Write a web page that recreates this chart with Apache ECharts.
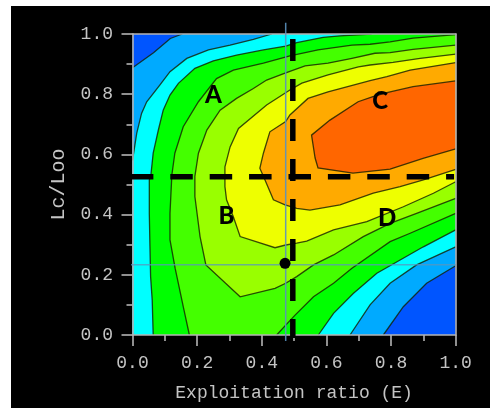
<!DOCTYPE html>
<html><head><meta charset="utf-8">
<style>html,body{margin:0;padding:0;background:#fff}#c{width:490px;height:408px}</style>
<script src="https://cdn.jsdelivr.net/npm/echarts@6/dist/echarts.min.js"></script>
</head><body><div id="c"></div>
<script>
const colors=['#0055ff','#00aaff','#00ffff','#00ff00','#44ff00','#99ff00','#eeff00','#ffaa00','#ff6600'];
const midBlueUpper=[[.154,1],[.117,.985],[.065,.938],[0,.888]];
const midBlueLower=[[.776,0],[.838,.094],[.910,.172],[1,.230]];
const cyanUpper=[[.431,1],[.374,.982],[.302,.963],[.235,.947],[.168,.919],[.116,.875],[.085,.831],[.044,.775],[.028,.736],[.013,.670],[0,.58]];
const cyanLower=[[.673,0],[.735,.100],[.797,.172],[.879,.233],[1,.293]];
const greenUpper=[[.74,1],[.642,.994],[.590,.989],[.508,.971],[.474,.960],[.405,.947],[.322,.930],[.250,.911],[.193,.886],[.142,.836],[.116,.797],[.095,.747],[.080,.681],[.064,.604],[.057,.532],[.052,.515],[.052,.404],[.054,.293],[.056,.194],[.061,.116],[.064,0]];
const greenLower=[[.575,0],[.622,.072],[.683,.138],[.756,.205],[.828,.249],[.900,.293],[1,.349]];
const limeUpper=[[1,.998],[.992,.997],[.868,.986],[.797,.974],[.735,.966],[.679,.963],[.574,.947],[.487,.927],[.405,.903],[.312,.880],[.260,.852],[.204,.775],[.157,.692],[.131,.604],[.121,.526],[.121,.515],[.116,.404],[.116,.316],[.132,.221],[.157,.094],[.176,0]];
const limeLower=[[.446,0],[.474,.033],[.503,.066],[.560,.127],[.622,.172],[.678,.221],[.797,.310],[.859,.338],[1,.404]];
const chartreuse=[[1,.963],[.868,.949],[.797,.938],[.750,.936],[.679,.919],[.605,.903],[.534,.894],[.472,.870],[.415,.847],[.374,.819],[.322,.786],[.271,.747],[.230,.681],[.204,.604],[.193,.527],[.193,.460],[.209,.327],[.227,.233],[.333,.127],[.441,.155],[.474,.172],[.508,.194],[.560,.233],[.622,.266],[.714,.327],[.797,.371],[.879,.404],[1,.454]];
const yellow=[[1,.933],[.890,.919],[.806,.906],[.735,.897],[.699,.891],[.605,.864],[.524,.837],[.487,.814],[.415,.764],[.328,.686],[.302,.625],[.286,.559],[.286,.493],[.291,.449],[.312,.393],[.333,.327],[.441,.290],[.474,.299],[.508,.305],[.539,.312],[.622,.349],[.725,.377],[.838,.426],[.931,.471],[1,.509]];
const orange=[[1,.905],[.859,.880],[.787,.858],[.735,.845],[.605,.808],[.543,.786],[.487,.731],[.474,.709],[.425,.675],[.405,.604],[.394,.554],[.410,.515],[.436,.449],[.472,.432],[.508,.421],[.549,.415],[.642,.432],[.745,.471],[.828,.493],[.900,.515],[1,.550]];
const red=[[1,.844],[.868,.825],[.787,.805],[.744,.792],[.698,.775],[.611,.714],[.554,.664],[.565,.588],[.574,.555],[.682,.538],[.797,.551],[.899,.587],[1,.618]];
const levels=[[midBlueUpper,midBlueLower],[cyanUpper,cyanLower],[greenUpper,greenLower],[limeUpper,limeLower],[chartreuse,[]],[yellow,[]],[orange,[]],[red,[]]];
const thinV=[[.474,1.037],[.474,-.02]];
const thinH=[[-.008,.233],[1,.233]];
const dashV=[[.496,.983],[.496,-.01]];
const dashH=[[-.005,.526],[.995,.526]];
const point=[[.472,.238]];
const letters=[[.25,.797,'A'],[.291,.393,'B'],[.766,.777,'C'],[.788,.388,'D']];

const mono='"Liberation Mono","DejaVu Sans Mono",monospace';
const grey='#c4c4c4';
const axisBits={axisLine:{show:true,onZero:false,lineStyle:{color:'#b4b4b4',width:1.6}},
  axisTick:{show:true,length:11,lineStyle:{color:'#b4b4b4',width:1.6}},
  minorTick:{show:true,splitNumber:2,length:6,lineStyle:{color:'#b4b4b4',width:1.6}},
  splitLine:{show:false},minorSplitLine:{show:false},z:10};
const frame={type:'value',min:0,max:1,axisLine:{show:true,onZero:false,lineStyle:{color:'#b4b4b4',width:1.6}},axisTick:{show:false},axisLabel:{show:false},splitLine:{show:false},z:10};

function fill(params,api){
  const lv=levels[params.dataIndex];
  const c=p=>api.coord(p);
  const pts=lv[0].slice();
  if(pts[pts.length-1][0]===0)pts.push([0,0]);
  pts.push(...lv[1]);
  if(lv[0][0][1]===1)pts.push([1,1]);
  const kids=[{type:'polygon',shape:{points:pts.map(c)},style:{fill:colors[params.dataIndex+1],stroke:null}}];
  lv.forEach(l=>{if(l.length)kids.push({type:'polyline',shape:{points:l.map(c)},style:{fill:null,stroke:'rgba(20,30,0,.8)',lineWidth:1.3}});});
  return {type:'group',children:kids};
}
const lineS=(d,style,z)=>({type:'line',data:d,symbol:'none',silent:true,clip:false,animation:false,lineStyle:style,z});

const chart=echarts.init(document.getElementById('c'),null,{renderer:'canvas'});
chart.setOption({
  animation:false,backgroundColor:'#fff',
  graphic:[{type:'rect',z:-1,shape:{x:11,y:6,width:479,height:402},style:{fill:'#000'}}],
  grid:{left:132.5,right:34.3,top:34,bottom:73,show:true,backgroundColor:colors[0],borderWidth:0,outerBoundsMode:'none',containLabel:false},
  xAxis:[{type:'value',min:0,max:1,interval:.2,position:'bottom',...axisBits,
      axisLabel:{color:grey,fontFamily:mono,fontSize:18,margin:19,formatter:v=>v.toFixed(1),showMinLabel:true,showMaxLabel:true},
      name:'Exploitation ratio (E)',nameLocation:'middle',nameGap:49,nameTextStyle:{color:grey,fontFamily:mono,fontSize:18}},
    {...frame,position:'top'}],
  yAxis:[{type:'value',min:0,max:1,interval:.2,position:'left',...axisBits,
      axisLabel:{color:grey,fontFamily:mono,fontSize:18,margin:19.5,formatter:v=>v.toFixed(1),showMinLabel:true,showMaxLabel:true},
      name:'Lc/Loo',nameLocation:'middle',nameGap:64,nameRotate:90,nameTextStyle:{color:grey,fontFamily:mono,fontSize:20}},
    {...frame,position:'right'}],
  series:[
    {type:'custom',coordinateSystem:'cartesian2d',renderItem:fill,data:levels.map((_,i)=>[i]),silent:true,animation:false,z:2,clip:false},
    lineS(thinV,{color:'rgba(90,145,190,.9)',width:1.5},20),
    lineS(thinH,{color:'rgba(90,150,190,.75)',width:1.5},20),
    lineS(dashV,{color:'#000',width:5.5,type:[22,18]},21),
    lineS(dashH,{color:'#000',width:5.5,type:[22.5,16.9]},21),
    {type:'scatter',data:point,symbol:'circle',symbolSize:11,itemStyle:{color:'#000',opacity:1},silent:true,animation:false,z:22},
    {type:'scatter',data:letters,symbolSize:1,itemStyle:{opacity:0},silent:true,animation:false,z:23,
      label:{show:true,position:'inside',formatter:p=>p.value[2],color:'#000',opacity:1,fontFamily:'Lato,"Open Sans",sans-serif',fontWeight:900,fontSize:24}}
  ]
});
</script></body></html>
